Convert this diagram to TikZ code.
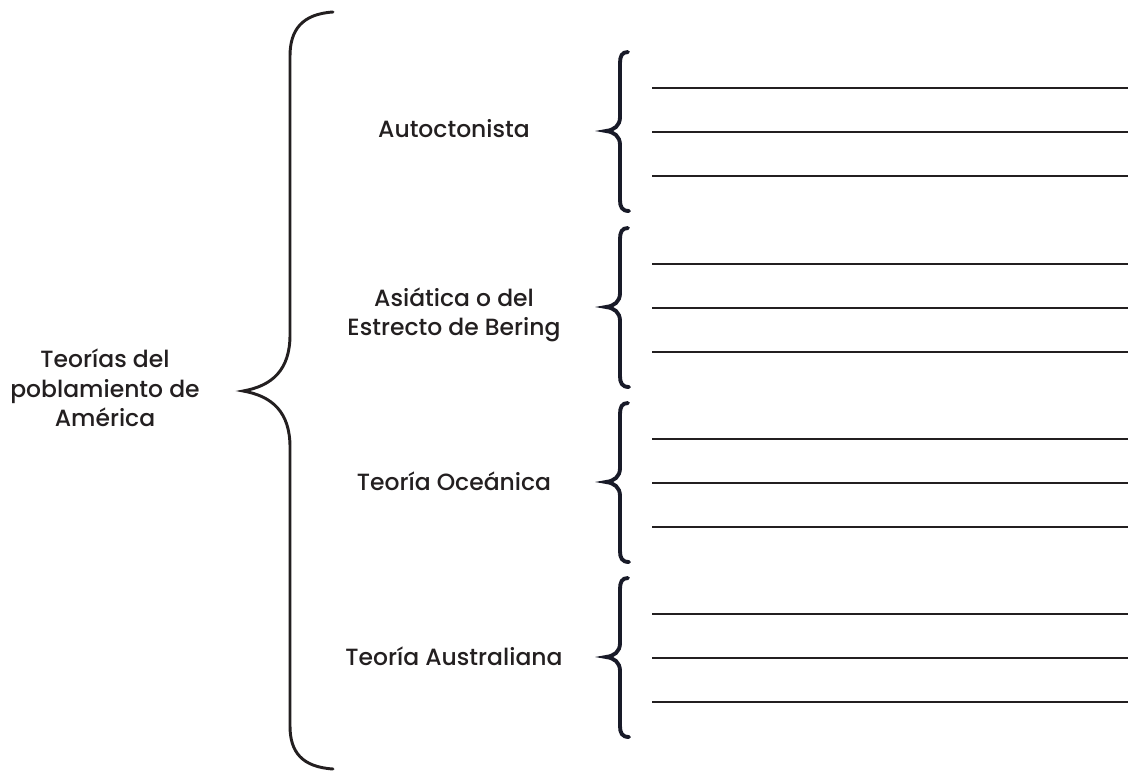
\documentclass[tikz,border=0pt]{standalone}
\usepackage{fontspec}
\setmainfont{Poppins Medium}
\definecolor{txt}{HTML}{231F20}
\definecolor{bracec}{RGB}{24,26,40}
\begin{document}
\begin{tikzpicture}[x=0.75pt,y=-0.75pt,
  lbl/.style={text=txt,font=\fontsize{17.6pt}{22pt}\selectfont,align=center,inner sep=0pt},
  bigbrace/.style={draw=txt,line width=2.2pt,line cap=round},
  smallbrace/.style={draw=bracec,line width=2.9pt,line cap=round},
  rule/.style={draw=txt,line width=1.1pt}]
\useasboundingbox (0,0) rectangle (1128,773);
% big brace
\draw[bigbrace] (333,12) .. controls (302,14) and (290,30) .. (290,56) -- (290,335)
  .. controls (290,370) and (272,386) .. (243,391)
  .. controls (272,396) and (290,412) .. (290,447) -- (290,726)
  .. controls (290,752) and (302,767) .. (333,769);
\node[lbl] (root) at (105,388) {Teorías del\\poblamiento de\\América};
% groups
\foreach \c/\ty/\txt [count=\i] in {131/129/Autoctonista,307/315/{Asiática o del\\Estrecto de Bering},482/481/Teoría Oceánica,657/656/Teoría Australiana}{
  \node[lbl] (t\i) at (454,\ty) {\txt};
  \draw[smallbrace] (628,\c-79) .. controls (622,\c-79) and (620,\c-75) .. (620,\c-68) -- (620,\c-14)
    .. controls (620,\c-5) and (614,\c-1) .. (606,\c)
    .. controls (614,\c+1) and (620,\c+5) .. (620,\c+14) -- (620,\c+69)
    .. controls (620,\c+76) and (622,\c+80) .. (629,\c+80);
  \foreach \d [count=\j] in {-43,1,45}{
    \coordinate (a\i\j) at (652,\c+\d);
    \coordinate (b\i\j) at (1128,\c+\d);
    \draw[rule] (a\i\j) -- (b\i\j);
  }
}
\end{tikzpicture}
\end{document}
